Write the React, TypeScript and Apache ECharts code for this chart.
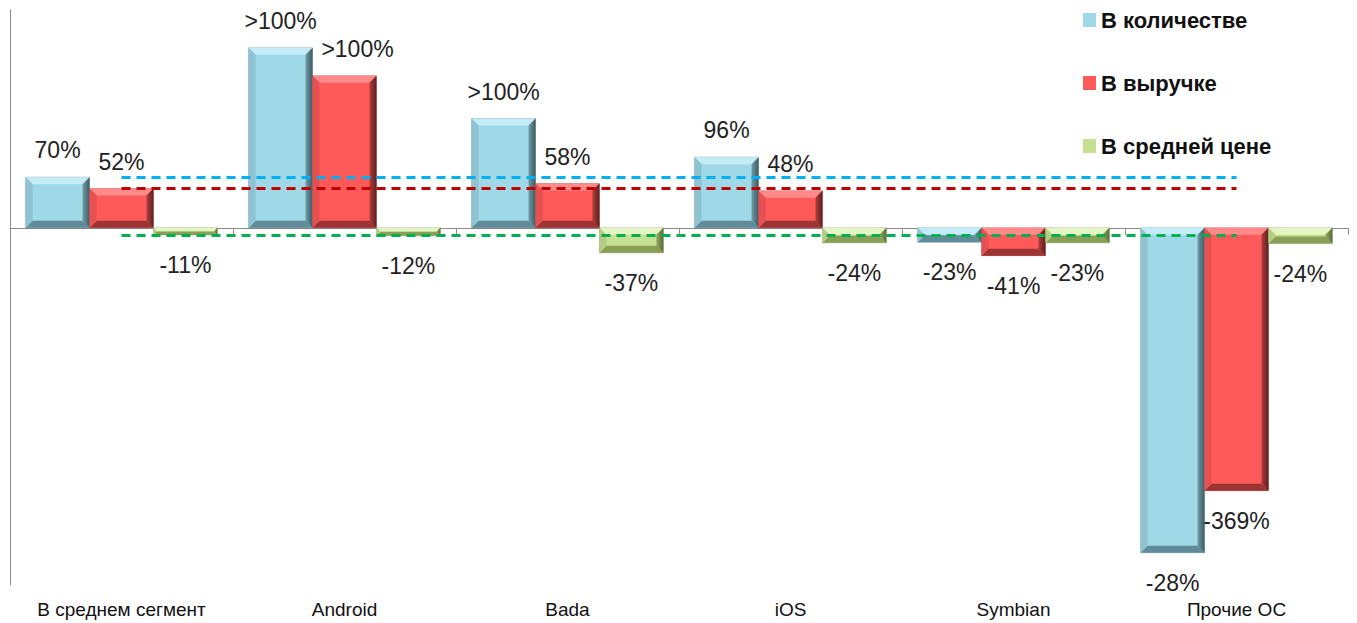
import React, { useEffect, useRef } from "react";
import * as echarts from "echarts";

const categories = ["В среднем сегмент", "Android", "Bada", "iOS", "Symbian", "Прочие ОС"];
const seriesNames = ["В количестве", "В выручке", "В средней цене"];
const qtyValues = [71, 252, 153, 99, -20, -455];
const revValues = [55, 213, 62, 52, -39, -368];
const priceValues = [-10, -11, -35, -21, -21, -22];
const qtyLabels = ["70%", ">100%", ">100%", "96%", "-23%", "-28%"];
const revLabels = ["52%", ">100%", "58%", "48%", "-41%", "-369%"];
const priceLabels = ["-11%", "-12%", "-37%", "-24%", "-23%", "-24%"];

const FONT = "Liberation Sans";

type Pal = { main: string; top: string; left: string; right1: string; right2: string; bottom: string };
const palettes: Pal[] = [
  { main: "#9fd8e7", top: "#c4ecf6", left: "#8fc3d1", right1: "#6f9ba7", right2: "#3d5c64", bottom: "#5f8c98" },
  { main: "#ff5a5a", top: "#ff8a8a", left: "#e65050", right1: "#b23e3e", right2: "#5e1f1f", bottom: "#9c3434" },
  { main: "#c6e091", top: "#e4f4c3", left: "#b4cd82", right1: "#92a963", right2: "#5b6b37", bottom: "#889f55" },
];
const lineColors = ["#00b0f0", "#c00000", "#00b050"];

function makeSeries(si: number, values: number[], labels: string[]) {
  const pal = palettes[si];
  return {
    name: seriesNames[si],
    type: "custom",
    xAxisIndex: 0,
    itemStyle: { color: pal.main },
    encode: { x: 0, y: 1 },
    data: values.map((v, i) => [i, v]),
    renderItem: (params: any, api: any) => {
      const ci = api.value(0);
      const v = api.value(1);
      const p0 = api.coord([ci, 0]);
      const p1 = api.coord([ci, v]);
      const bandW = api.size([1, 0])[0];
      const barW = (bandW * 0.86) / 3;
      const x0 = p0[0] - bandW * 0.43 + si * barW;
      const x1 = x0 + barW;
      const top = Math.min(p0[1], p1[1]);
      const bottom = Math.max(p0[1], p1[1]);
      const h = bottom - top;
      const b = Math.min(7, h / 2, barW / 2);
      const pos = v >= 0;
      const off = si === 1 && ci === 1 ? [13, 0] : [0, 0];
      return {
        type: "group",
        children: [
          {
            type: "rect",
            shape: { x: x0, y: top, width: barW, height: h },
            style: { fill: pal.main, stroke: "rgba(0,0,0,0.2)", lineWidth: 1 },
            textContent: {
              style: {
                text: labels[ci],
                fontFamily: FONT,
                fontSize: 23,
                fill: "#222",
              },
            },
            textConfig: { position: pos ? "top" : "bottom", distance: pos ? 15 : 18, offset: off },
          },
          {
            type: "polygon",
            shape: { points: [[x0, top], [x1, top], [x1 - b, top + b], [x0 + b, top + b]] },
            style: { fill: pal.top },
          },
          {
            type: "polygon",
            shape: { points: [[x0, bottom], [x1, bottom], [x1 - b, bottom - b], [x0 + b, bottom - b]] },
            style: { fill: pal.bottom },
          },
          {
            type: "polygon",
            shape: { points: [[x0, top], [x0 + b, top + b], [x0 + b, bottom - b], [x0, bottom]] },
            style: { fill: pal.left },
          },
          {
            type: "polygon",
            shape: { points: [[x1, top], [x1 - b, top + b], [x1 - b, bottom - b], [x1, bottom]] },
            style: {
              fill: new echarts.graphic.LinearGradient(0, 0, 1, 0, [
                { offset: 0, color: pal.right1 },
                { offset: 1, color: pal.right2 },
              ]),
            },
          },
        ],
      };
    },
  };
}

function refLine(si: number, values: number[]) {
  return [
    { coord: [categories[0], values[0]], lineStyle: { color: lineColors[si], width: 3, type: [9, 6] } },
    { coord: [categories[5], values[0]] },
  ];
}

export default function App() {
  const ref = useRef<HTMLDivElement>(null);
  useEffect(() => {
    const chart = echarts.init(ref.current!, null, { renderer: "svg" });
    const s0: any = makeSeries(0, qtyValues, qtyLabels);
    const s1: any = makeSeries(1, revValues, revLabels);
    const s2: any = makeSeries(2, priceValues, priceLabels);
    s2.markLine = {
      silent: true,
      symbol: "none",
      label: { show: false },
      data: [refLine(0, qtyValues), refLine(1, revValues), refLine(2, priceValues)],
    };
    chart.setOption({
      animation: false,
      backgroundColor: "#ffffff",
      grid: { left: 10, right: 9, top: 10, bottom: 38 },
      legend: {
        orient: "vertical",
        left: 1078,
        top: 4,
        itemWidth: 13,
        itemHeight: 14,
        itemGap: 41,
        icon: "rect",
        data: seriesNames,
        textStyle: { fontFamily: FONT, fontSize: 22, fontWeight: "bold", color: "#111", lineHeight: 22 },
      },
      xAxis: [
        {
          type: "category",
          data: categories,
          axisLine: { onZero: true, lineStyle: { color: "#8c8c8c", width: 1 } },
          axisTick: { show: true, length: 7, lineStyle: { color: "#8c8c8c" } },
          axisLabel: { show: false },
        },
        {
          type: "category",
          data: categories,
          position: "bottom",
          axisLine: { show: false, onZero: false },
          axisTick: { show: false },
          axisLabel: { show: true, interval: 0, margin: 15, fontFamily: FONT, fontSize: 19, color: "#111" },
        },
      ],
      yAxis: {
        type: "value",
        min: -500,
        max: 305,
        axisLine: { show: true, lineStyle: { color: "#8c8c8c" } },
        axisTick: { show: false },
        axisLabel: { show: false },
        splitLine: { show: false },
      },
      series: [s0, s1, s2],
    });
    return () => chart.dispose();
  }, []);
  return <div ref={ref} style={{ position: "absolute", left: 0, top: 0, width: 1357, height: 623 }} />;
}
